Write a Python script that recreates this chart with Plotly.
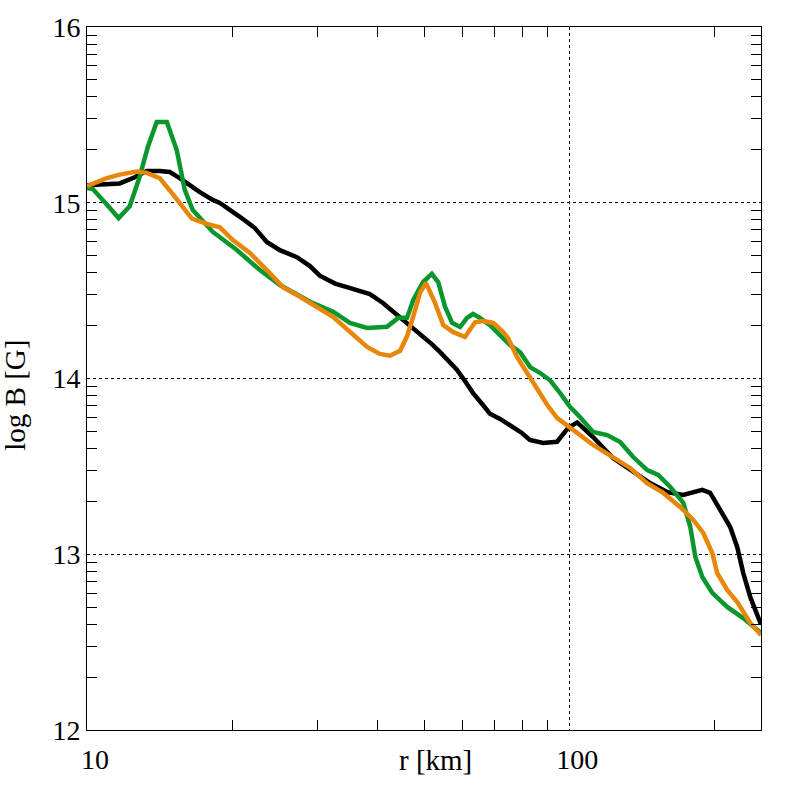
import numpy as np
import plotly.graph_objects as go

# ---- data ----
r_black = [10.0, 10.88, 11.69, 12.56, 13.3, 14.15, 14.85, 15.57, 16.33, 17.14, 18.23, 18.86,
           20.75, 22.29, 23.6, 25.12, 27.25, 29.0, 30.4, 32.7, 34.6, 36.8, 38.6, 41.1, 44.6,
           47.2, 49.7, 51.9, 54.0, 56.1, 58.5, 60.8, 63.2, 66.0, 68.5, 71.9, 76.5, 79.8, 82.9,
           88.3, 94.4, 99.6, 103.9, 112.1, 123.3, 135.7, 147.2, 159.7, 172.4, 188.8, 196.1,
           205.7, 215.8, 223.2, 229.7, 237.5, 250.0]
logB_black = [15.10, 15.107, 15.11, 15.145, 15.18, 15.18, 15.175, 15.14, 15.10, 15.06, 15.016,
              14.999, 14.92, 14.856, 14.777, 14.73, 14.69, 14.64, 14.585, 14.54, 14.52, 14.50,
              14.48, 14.43, 14.35, 14.29, 14.236, 14.196, 14.15, 14.105, 14.05, 13.986, 13.917,
              13.855, 13.80, 13.77, 13.72, 13.69, 13.65, 13.633, 13.64, 13.72, 13.75, 13.667,
              13.548, 13.468, 13.405, 13.354, 13.337, 13.366, 13.349, 13.252, 13.155, 13.04,
              12.893, 12.757, 12.60]

r_green = [10.0, 10.28, 10.99, 11.63, 12.26, 12.86, 13.37, 13.95, 14.64, 15.35, 15.95, 16.57,
           18.24, 20.45, 22.84, 25.12, 27.64, 29.0, 32.4, 35.1, 38.1, 41.9, 44.2, 46.1, 47.5,
           49.8, 51.9, 53.5, 55.3, 57.2, 59.4, 61.4, 63.2, 65.3, 68.5, 71.9, 75.4, 79.1, 83.0,
           87.1, 91.3, 95.8, 100.5, 105.4, 112.1, 119.9, 127.6, 135.8, 145.2, 153.0, 162.1,
           172.5, 178.4, 182.7, 188.9, 198.1, 212.7, 229.6, 250.0]
logB_green = [15.084, 15.078, 14.99, 14.913, 14.98, 15.147, 15.317, 15.46, 15.46, 15.30, 15.073,
              14.959, 14.834, 14.731, 14.617, 14.532, 14.47, 14.437, 14.38, 14.316, 14.288,
              14.294, 14.345, 14.345, 14.447, 14.549, 14.595, 14.549, 14.407, 14.316, 14.293,
              14.345, 14.367, 14.345, 14.304, 14.247, 14.19, 14.15, 14.065, 14.031, 13.99,
              13.917, 13.838, 13.78, 13.696, 13.678, 13.639, 13.553, 13.479, 13.451, 13.383,
              13.292, 13.155, 12.984, 12.871, 12.78, 12.70, 12.637, 12.552]

r_orange = [10.0, 10.99, 11.69, 12.68, 13.3, 14.15, 14.85, 15.57, 16.5, 17.72, 18.86, 20.07,
            21.77, 23.61, 25.5, 27.64, 29.98, 32.37, 35.1, 38.1, 40.5, 42.5, 44.6, 46.1, 47.5,
            49.1, 50.5, 52.7, 54.8, 57.4, 60.8, 63.8, 66.3, 69.6, 73.0, 74.7, 78.0, 81.8, 85.8,
            90.1, 94.5, 99.1, 105.4, 112.1, 123.3, 133.8, 145.1, 156.7, 169.9, 180.9, 189.7,
            198.1, 202.8, 212.7, 223.2, 229.6, 237.5, 250.0]
logB_orange = [15.095, 15.14, 15.16, 15.177, 15.17, 15.14, 15.07, 14.997, 14.91, 14.88, 14.86,
               14.788, 14.714, 14.617, 14.52, 14.465, 14.408, 14.351, 14.266, 14.18, 14.14,
               14.13, 14.158, 14.24, 14.354, 14.49, 14.543, 14.43, 14.304, 14.265, 14.236,
               14.32, 14.327, 14.316, 14.265, 14.23, 14.122, 14.031, 13.946, 13.849, 13.775,
               13.735, 13.678, 13.622, 13.548, 13.491, 13.405, 13.349, 13.269, 13.195, 13.121,
               13.007, 12.893, 12.797, 12.728, 12.671, 12.609, 12.54]

x_major_ticks = [10, 100]
x_major_labels = ["10", "100"]
x_minor_ticks = [20, 30, 40, 50, 60, 70, 80, 90, 200]
y_major_ticks = [12, 13, 14, 15, 16]
y_major_labels = ["12", "13", "14", "15", "16"]
y_minor_ticks = [k + np.log10(n) for k in range(12, 16) for n in range(2, 10)]

x_range = [10, 250]
y_range = [12, 16]

FONT = "Liberation Serif"

fig = go.Figure()
for xs, ys, col in [(r_black, logB_black, "#000000"),
                    (r_green, logB_green, "#0a962c"),
                    (r_orange, logB_orange, "#e8860a")]:
    fig.add_trace(go.Scatter(x=xs, y=ys, mode="lines",
                             line=dict(color=col, width=4.5), showlegend=False))

fig.update_layout(
    width=786, height=786, autosize=False,
    margin=dict(l=87, r=25, t=27, b=56),
    paper_bgcolor="white", plot_bgcolor="white",
    font=dict(family=FONT, size=28, color="black"),
    xaxis=dict(
        type="log", range=[np.log10(x_range[0]), np.log10(x_range[1])],
        tickmode="array", tickvals=x_major_ticks, ticktext=x_major_labels,
        ticks="inside", ticklen=0, ticklabelshift=8, ticklabelstandoff=4,
        showline=True, linecolor="black", linewidth=1, mirror="ticks",
        showgrid=True, gridcolor="black", griddash="dot", gridwidth=1,
        zeroline=False,
        minor=dict(tickmode="array", tickvals=x_minor_ticks, ticks="inside",
                   ticklen=10, tickcolor="black", tickwidth=1, showgrid=False),
    ),
    yaxis=dict(
        range=y_range,
        tickmode="array", tickvals=y_major_ticks, ticktext=y_major_labels,
        ticks="inside", ticklen=0,
        showline=True, linecolor="black", linewidth=1, mirror="ticks",
        showgrid=True, gridcolor="black", griddash="dot", gridwidth=1,
        zeroline=False,
        minor=dict(tickmode="array", tickvals=y_minor_ticks, ticks="inside",
                   ticklen=10, tickcolor="black", tickwidth=1, showgrid=False),
    ),
    annotations=[
        dict(text="r [km]", xref="paper", yref="paper", x=0.5176, y=0,
             yshift=-30, xanchor="center", yanchor="middle", showarrow=False,
             font=dict(family=FONT, size=29, color="black")),
        dict(text="log B [G]", xref="paper", yref="paper", x=-0.1073, y=0.4765,
             textangle=-90, xanchor="center", yanchor="middle", showarrow=False,
             font=dict(family=FONT, size=29, color="black")),
    ],
)

fig.write_html("out.html", config={"displayModeBar": False},
               post_script="document.body.style.margin='0px';document.body.style.padding='0px';")
